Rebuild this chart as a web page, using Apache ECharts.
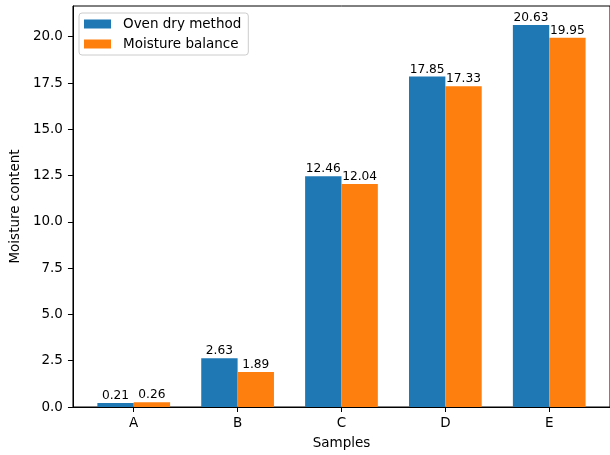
<!DOCTYPE html>
<html>
<head>
<meta charset="utf-8">
<script src="https://cdn.jsdelivr.net/npm/echarts@6/dist/echarts.min.js"></script>
<style>html,body{margin:0;padding:0;background:#fff}#c{width:610px;height:455px}</style>
</head>
<body>
<div id="c"></div>
<script>
var categories = ['A', 'B', 'C', 'D', 'E'];
var ovenDry = [0.21, 2.63, 12.46, 17.85, 20.63];
var moistureBalance = [0.26, 1.89, 12.04, 17.33, 19.95];
var yTicks = [0, 2.5, 5, 7.5, 10, 12.5, 15, 17.5, 20];
var xTicks = [0, 1, 2, 3, 4];
var seriesNames = ['Oven dry method', 'Moisture balance'];
var colors = ['#1f77b4', '#ff7f0e'];

var FONT = 'DejaVu Sans';
var BAR_W = 0.35;

function makeRender(leftOffset, color) {
  return function (params, api) {
    var i = api.value(0), v = api.value(1);
    var tl = api.coord([i + leftOffset, v]);
    var br = api.coord([i + leftOffset + BAR_W, 0]);
    return {
      type: 'group',
      children: [
        { type: 'rect', shape: { x: tl[0], y: tl[1], width: br[0] - tl[0], height: br[1] - tl[1] }, style: { fill: color } },
        { type: 'text', x: (tl[0] + br[0]) / 2, y: tl[1] - 1,
          style: { text: String(v), fill: '#000', font: '12.2px "' + FONT + '"', align: 'center', verticalAlign: 'bottom' } }
      ]
    };
  };
}

var chart = echarts.init(document.getElementById('c'), null, { renderer: 'canvas' });
chart.setOption({
  animation: false,
  backgroundColor: '#fff',
  textStyle: { fontFamily: FONT },
  grid: { left: 72, right: -4, top: 6, bottom: 47, containLabel: false,
    show: true, borderColor: '#000', borderWidth: 1, backgroundColor: 'transparent' },
  legend: {
    orient: 'vertical', left: 79, top: 13,
    icon: 'rect', itemWidth: 27, itemHeight: 9, itemGap: 6,
    padding: [4, 7, 4, 5],
    backgroundColor: 'rgba(255,255,255,0.8)', borderColor: '#cccccc', borderWidth: 1, borderRadius: 3,
    textStyle: { fontFamily: FONT, fontSize: 13.5, color: '#000', lineHeight: 14, padding: [0, 0, 0, 7] },
    data: seriesNames
  },
  xAxis: {
    type: 'value', min: -0.585, max: 4.585,
    name: 'Samples', nameLocation: 'middle', nameGap: 29,
    nameTextStyle: { fontFamily: FONT, fontSize: 13.5, color: '#000' },
    axisLine: { show: true, onZero: false, lineStyle: { color: '#000', width: 1 } },
    axisTick: { show: true, length: 5, customValues: xTicks, lineStyle: { color: '#000' } },
    axisLabel: { customValues: xTicks, margin: 9, fontFamily: FONT, fontSize: 13.5, color: '#000',
      formatter: function (v) { return categories[Math.round(v)]; } },
    splitLine: { show: false }
  },
  yAxis: {
    type: 'value', min: 0, max: 21.66,
    name: 'Moisture content', nameLocation: 'middle', nameGap: 44,
    nameTextStyle: { fontFamily: FONT, fontSize: 13.5, color: '#000' },
    axisLine: { show: true, onZero: false, lineStyle: { color: '#000', width: 1 } },
    axisTick: { show: true, length: 5, customValues: yTicks, lineStyle: { color: '#000' } },
    axisLabel: { customValues: yTicks, margin: 10, fontFamily: FONT, fontSize: 13.5, color: '#000',
      formatter: function (v) { return v.toFixed(1); } },
    splitLine: { show: false }
  },
  series: [
    { name: seriesNames[0], type: 'custom', itemStyle: { color: colors[0] },
      renderItem: makeRender(-BAR_W, colors[0]), encode: { x: 0, y: 1 },
      data: ovenDry.map(function (v, i) { return [i, v]; }) },
    { name: seriesNames[1], type: 'custom', itemStyle: { color: colors[1] },
      renderItem: makeRender(0, colors[1]), encode: { x: 0, y: 1 },
      data: moistureBalance.map(function (v, i) { return [i, v]; }) }
  ]
});
</script>
</body>
</html>
